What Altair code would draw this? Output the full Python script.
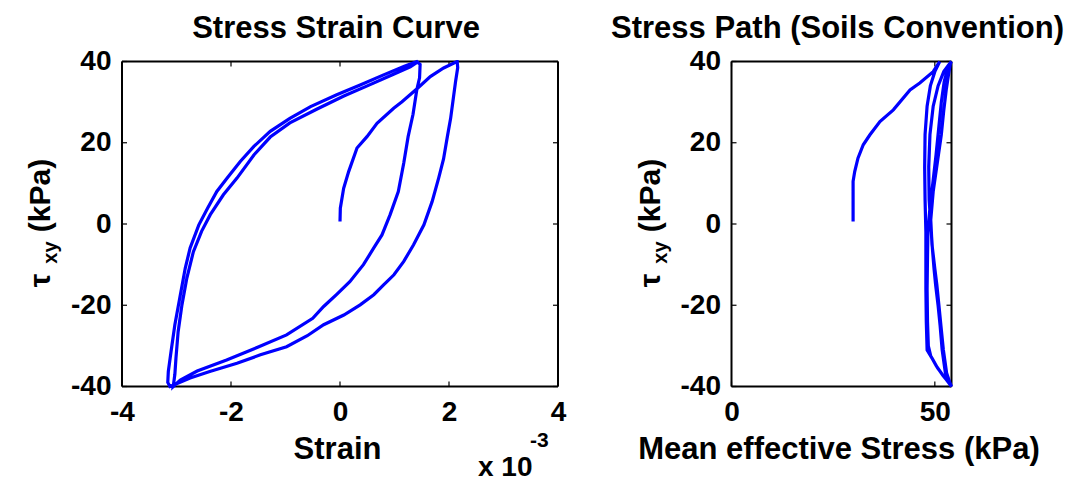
import altair as alt
import pandas as pd

FONT = "Liberation Sans"
BLUE = "#0000FF"

# ---------------- Stress-strain curve (strain in units of 1e-3, stress in kPa) ----------------
seg1_strain = [0.0, 0.006, 0.067, 0.159, 0.312, 0.495, 0.679, 0.985, 1.138, 1.413, 1.657, 1.902, 2.147]
seg1_stress = [0.6, 3.9, 8.8, 12.9, 18.7, 21.5, 24.8, 28.5, 30.1, 33.3, 36.3, 38.4, 40.0]

seg2_strain = [2.15, 2.16, 2.12, 2.08, 2.03, 1.97, 1.90, 1.81, 1.69, 1.54, 1.35, 1.17, 0.99, 0.80,
               0.62, 0.37, 0.07, -0.30, -0.60, -0.98, -1.46, -1.89, -2.39, -2.75, -3.00, -3.12]
seg2_stress = [40.0, 38.5, 35.0, 31.0, 26.0, 21.5, 16.0, 11.3, 5.5, -0.2, -5.1, -9.2, -12.5, -15.0,
               -17.4, -19.9, -22.4, -24.8, -27.5, -30.2, -32.2, -34.3, -36.3, -37.9, -39.3, -40.0]

seg3_strain = [-3.12, -3.16, -3.15, -3.10, -3.03, -2.94, -2.84, -2.75, -2.59, -2.43, -2.26, -2.07,
               -1.83, -1.58, -1.28, -0.92, -0.54, -0.06, 0.37, 0.80, 1.17, 1.41]
seg3_stress = [-40.0, -39.0, -36.3, -31.4, -24.8, -18.2, -10.9, -5.9, -0.2, 3.9, 8.0, 11.3,
               15.4, 19.1, 22.8, 26.0, 28.9, 31.8, 34.2, 36.7, 38.8, 40.0]

seg4_strain = [1.41, 1.47, 1.46, 1.41, 1.34, 1.25, 1.17, 1.07, 0.92, 0.77, 0.62, 0.43, 0.18, -0.06,
               -0.30, -0.50, -0.98, -1.50, -2.08, -2.62, -2.93, -3.06]
seg4_stress = [40.0, 39.3, 36.0, 33.1, 27.0, 21.5, 15.0, 8.0, 2.3, -2.7, -5.9, -10.0, -14.2, -17.3,
               -20.3, -23.2, -27.3, -30.3, -33.5, -36.2, -38.4, -40.0]

seg5_strain = [-3.06, -3.03, -3.01, -2.97, -2.90, -2.81, -2.69, -2.54, -2.38, -2.14, -1.89, -1.58,
               -1.28, -0.92, -0.42, 0.07, 0.50, 0.92, 1.29, 1.44]
seg5_stress = [-40.0, -37.0, -33.0, -26.5, -19.9, -13.3, -6.8, -1.8, 2.3, 7.2, 11.3, 17.0,
               21.4, 24.9, 28.3, 31.5, 34.0, 36.5, 38.7, 40.0]

# ---------------- Stress path (mean effective stress p' in kPa, stress in kPa) ----------------
path1_p = [29.9, 29.9, 30.3, 31.1, 32.4, 34.0, 36.5, 39.8, 43.9, 46.3, 49.6, 51.2]
path1_stress = [0.6, 10.5, 12.9, 16.2, 19.5, 21.9, 25.2, 28.1, 33.0, 34.7, 37.5, 40.0]

path2_p = [51.2, 50.0, 48.9, 48.1, 47.6, 47.5, 47.6, 47.8, 47.8, 47.8, 47.9, 48.1, 49.3, 50.7, 52.2, 53.5, 54.1]
path2_stress = [40.0, 37.5, 34.0, 29.0, 22.0, 14.0, 6.0, -2.0, -8.0, -16.0, -24.0, -31.0, -33.0, -35.5, -37.5, -39.2, -40.0]

path3_p = [54.1, 53.4, 52.6, 51.8, 51.3, 50.8, 50.2, 49.8, 49.4, 49.0, 48.6, 48.5, 48.8, 49.6, 50.8, 52.2, 53.3, 54.1]
path3_stress = [-40.0, -38.5, -36.7, -31.0, -25.0, -20.0, -15.0, -11.0, -6.0, 0.0, 6.0, 14.0, 22.0, 29.0, 34.0, 37.5, 39.0, 40.0]

path4_p = [54.1, 53.2, 52.3, 51.6, 51.0, 50.3, 49.5, 48.8, 48.3, 48.2, 48.1, 48.2, 48.4, 49.0, 50.4, 52.0, 53.4, 54.1]
path4_stress = [40.0, 38.5, 35.0, 30.0, 24.0, 17.0, 10.0, 4.0, -2.0, -8.0, -16.0, -24.0, -30.0, -32.5, -35.0, -37.3, -39.0, -40.0]

path5_p = [54.1, 53.6, 52.9, 52.1, 51.5, 51.0, 50.5, 50.0, 49.3, 49.0, 49.6, 50.6, 51.6, 52.2, 52.8, 53.4, 53.8, 54.0]
path5_stress = [-40.0, -38.8, -36.7, -31.0, -25.0, -20.0, -15.0, -11.0, -5.0, 1.0, 8.0, 15.0, 22.0, 28.0, 33.0, 37.0, 39.3, 40.0]

# ---------------- Tick values ----------------
strain_ticks = [-4, -2, 0, 2, 4]
stress_ticks = [-40, -20, 0, 20, 40]
p_ticks = [0, 50]

W1, W2, H = 436, 220, 325


def build(segs, xname):
    rows = []
    i = 0
    for xs_, ys_ in segs:
        for a, b in zip(xs_, ys_):
            rows.append({xname: a, "stress": b, "idx": i})
            i += 1
    return pd.DataFrame(rows)


df_ss = build([(seg1_strain, seg1_stress), (seg2_strain, seg2_stress), (seg3_strain, seg3_stress),
               (seg4_strain, seg4_stress), (seg5_strain, seg5_stress)], "strain")
df_sp = build([(path1_p, path1_stress), (path2_p, path2_stress), (path3_p, path3_stress),
               (path4_p, path4_stress), (path5_p, path5_stress)], "p")

LBL = "replace(datum.label, '\u2212', '-')"


def x_axis(values, title, W):
    return alt.Axis(values=values, title=title, grid=False, domain=False, ticks=False, tickSize=0,
                    labelFont=FONT, labelFontSize=28, labelFontWeight="bold", labelColor="black",
                    labelBaseline="alphabetic", labelPadding=34, labelFlush=False, labelOverlap=False,
                    labelExpr=LBL,
                    titleFont=FONT, titleFontSize=31, titleFontWeight="bold", titleColor="black",
                    titleBaseline="alphabetic", titleY=72, titleX=W / 2 - 3, titleAlign="center")


def y_axis(values):
    return alt.Axis(values=values, title=None, grid=False, domain=False, ticks=False, tickSize=0,
                    labelFont=FONT, labelFontSize=28, labelFontWeight="bold", labelColor="black",
                    labelPadding=11, labelFlush=False, labelOverlap=False, labelExpr=LBL,
                    minExtent=114, maxExtent=114)


def frame_layers(xname, xvals, yvals, xs, ys, W):
    tx = pd.DataFrame({xname: xvals})
    ty = pd.DataFrame({"stress": yvals})
    one = pd.DataFrame({"b": [0]})
    r = dict(color="black", strokeWidth=1.2)
    e = dict(color="#000000", strokeWidth=2, opacity=1)
    return [
        alt.Chart(one).mark_rule(**e).encode(x=alt.value(0), x2=alt.value(W), y=alt.value(0)),
        alt.Chart(one).mark_rule(**e).encode(x=alt.value(0), x2=alt.value(W), y=alt.value(H)),
        alt.Chart(one).mark_rule(**e).encode(x=alt.value(0), y=alt.value(0), y2=alt.value(H)),
        alt.Chart(one).mark_rule(**e).encode(x=alt.value(W), y=alt.value(0), y2=alt.value(H)),
        alt.Chart(tx).mark_rule(**r).encode(x=alt.X(f"{xname}:Q", scale=xs), y=alt.value(H), y2=alt.value(H - 5)),
        alt.Chart(tx).mark_rule(**r).encode(x=alt.X(f"{xname}:Q", scale=xs), y=alt.value(0), y2=alt.value(5)),
        alt.Chart(ty).mark_rule(**r).encode(y=alt.Y("stress:Q", scale=ys), x=alt.value(0), x2=alt.value(5)),
        alt.Chart(ty).mark_rule(**r).encode(y=alt.Y("stress:Q", scale=ys), x=alt.value(W), x2=alt.value(W - 5)),
    ]


def text_layer(s, x, y, size, align="center", angle=0):
    return alt.Chart(pd.DataFrame({"s": [s]})).mark_text(
        font=FONT, fontSize=size, fontWeight="bold", color="black", align=align,
        baseline="alphabetic", angle=angle
    ).encode(text="s:N", x=alt.value(x), y=alt.value(y))


def ylabel_layers():
    return [
        text_layer("\u03c4", -72, 219, 30, angle=270),
        text_layer("xy", -65, 191, 20, angle=270),
        text_layer("(kPa)", -72, 134, 30, angle=270),
    ]


ys = alt.Scale(domain=[-40, 40], nice=False, zero=False)
xs1 = alt.Scale(domain=[-4, 4], nice=False, zero=False)
xs2 = alt.Scale(domain=[0, 54.1], nice=False, zero=False)

line1 = alt.Chart(df_ss).mark_line(color=BLUE, strokeWidth=3.2).encode(
    x=alt.X("strain:Q", scale=xs1, axis=x_axis(strain_ticks, "Strain", W1)),
    y=alt.Y("stress:Q", scale=ys, axis=y_axis(stress_ticks)),
    order="idx:Q",
)

left = alt.layer(
    *frame_layers("strain", strain_ticks, stress_ticks, xs1, ys, W1),
    line1,
    *ylabel_layers(),
    text_layer("Stress Strain Curve", W1 / 2 - 4, -23.5, 31),
    text_layer("x 10", 356, 414, 28, align="left"),
    text_layer("-3", 408, 385, 21, align="left"),
).properties(width=W1, height=H)

line2 = alt.Chart(df_sp).mark_line(color=BLUE, strokeWidth=3.2).encode(
    x=alt.X("p:Q", scale=xs2, axis=x_axis(p_ticks, "Mean effective Stress (kPa)", W2)),
    y=alt.Y("stress:Q", scale=ys, axis=y_axis(stress_ticks)),
    order="idx:Q",
)

right = alt.layer(
    *frame_layers("p", p_ticks, stress_ticks, xs2, ys, W2),
    line2,
    *ylabel_layers(),
    text_layer("Stress Path (Soils Convention)", W2 / 2 - 4, -23.5, 31),
).properties(width=W2, height=H)

chart = alt.hconcat(left, right, spacing=173.5, bounds="flush").properties(
    padding={"left": 0, "top": 4.5, "right": 0, "bottom": 0},
    background="white",
).configure_view(strokeWidth=0)

chart.save("out.html", embed_options={"renderer": "svg", "actions": False})
